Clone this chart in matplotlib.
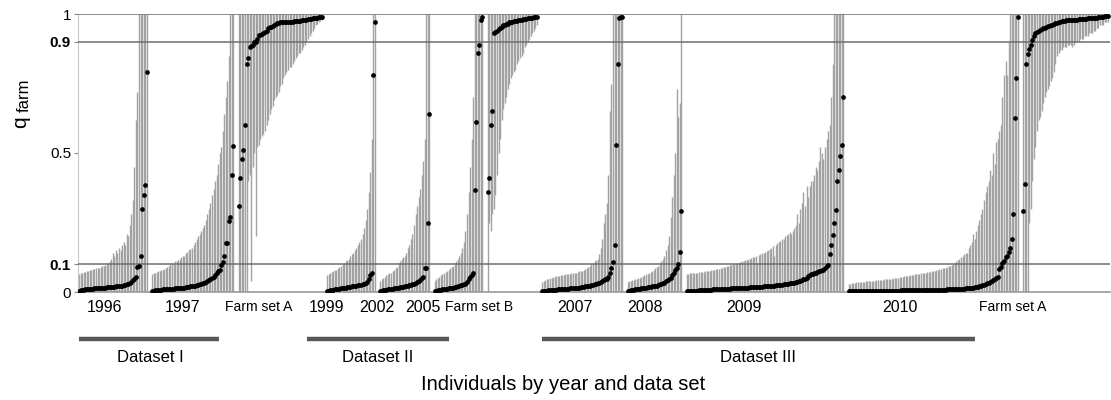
import numpy as np
import matplotlib
matplotlib.use("Agg")
import matplotlib.pyplot as plt
from matplotlib.lines import Line2D

plt.rcParams['font.family'] = ['Liberation Sans', 'DejaVu Sans']

# q_farm per individual (sorted within each group) and the bound of its interval
# year groups: interval runs from 0 up to hi; farm sets: from lo up to 1
q_1996 = [0.005, 0.006, 0.007, 0.008, 0.009, 0.010, 0.010, 0.011, 0.012, 0.012,
          0.013, 0.013, 0.014, 0.014, 0.015, 0.015, 0.016, 0.016, 0.017, 0.017,
          0.018, 0.018, 0.019, 0.019, 0.020, 0.020, 0.021, 0.022, 0.023, 0.024,
          0.025, 0.027, 0.029, 0.032, 0.036, 0.042, 0.048, 0.054, 0.09, 0.094,
          0.13, 0.30, 0.35, 0.385, 0.79]
hi_1996 = [0.065, 0.068, 0.07, 0.072, 0.073, 0.075, 0.077, 0.078, 0.08, 0.082,
           0.083, 0.085, 0.087, 0.088, 0.09, 0.092, 0.095, 0.097, 0.10, 0.105,
           0.11, 0.12, 0.14, 0.13, 0.15, 0.14, 0.16, 0.15, 0.17, 0.18,
           0.17, 0.21, 0.20, 0.24, 0.28, 0.33, 0.45, 0.62, 0.72, 1,
           1, 1, 1, 1, 1]

q_1997 = [0.004, 0.005, 0.006, 0.006, 0.007, 0.008, 0.008, 0.009, 0.009, 0.010,
          0.010, 0.011, 0.011, 0.012, 0.012, 0.013, 0.013, 0.014, 0.014, 0.015,
          0.015, 0.016, 0.017, 0.018, 0.019, 0.020, 0.021, 0.022, 0.023, 0.024,
          0.025, 0.027, 0.029, 0.031, 0.033, 0.036, 0.039, 0.042, 0.046, 0.050,
          0.055, 0.060, 0.068, 0.074, 0.080, 0.097, 0.108, 0.13, 0.175, 0.175,
          0.256, 0.27, 0.42, 0.525]
hi_1997 = [0.065, 0.068, 0.07, 0.072, 0.074, 0.076, 0.078, 0.08, 0.083, 0.086,
           0.09, 0.095, 0.10, 0.10, 0.105, 0.11, 0.11, 0.115, 0.12, 0.125,
           0.13, 0.13, 0.14, 0.145, 0.15, 0.155, 0.16, 0.17, 0.18, 0.19,
           0.20, 0.21, 0.22, 0.23, 0.24, 0.26, 0.28, 0.30, 0.32, 0.35,
           0.37, 0.40, 0.42, 0.46, 0.50, 0.52, 0.58, 0.64, 0.70, 0.76,
           0.85, 1, 1, 1]

q_farmA = [0.31, 0.41, 0.48, 0.51, 0.60, 0.82, 0.84, 0.88, 0.885, 0.89,
           0.90, 0.90, 0.91, 0.925, 0.925, 0.927, 0.93, 0.935, 0.94, 0.95,
           0.953, 0.955, 0.958, 0.96, 0.964, 0.966, 0.968, 0.97, 0.97, 0.97,
           0.971, 0.971, 0.972, 0.972, 0.973, 0.973, 0.974, 0.974, 0.975, 0.975,
           0.976, 0.977, 0.978, 0.979, 0.98, 0.981, 0.982, 0.983, 0.984, 0.985,
           0.986, 0.987, 0.988, 0.989, 0.99]
lo_farmA = [0, 0, 0, 0, 0, 0, 0.40, 0.42, 0.04, 0.45,
            0.50, 0.20, 0.52, 0.53, 0.55, 0.56, 0.57, 0.58, 0.60, 0.62,
            0.64, 0.66, 0.67, 0.69, 0.70, 0.71, 0.72, 0.74, 0.75, 0.77,
            0.78, 0.79, 0.80, 0.81, 0.81, 0.82, 0.83, 0.84, 0.85, 0.86,
            0.86, 0.87, 0.88, 0.89, 0.90, 0.91, 0.92, 0.93, 0.94, 0.95,
            0.96, 0.965, 0.97, 0.975, 0.98]

q_1999 = [0.004, 0.005, 0.006, 0.007, 0.008, 0.009, 0.010, 0.011, 0.012, 0.013,
          0.014, 0.015, 0.016, 0.017, 0.018, 0.019, 0.020, 0.021, 0.022, 0.023,
          0.024, 0.025, 0.026, 0.028, 0.030, 0.033, 0.036, 0.045, 0.06, 0.07,
          0.78, 0.97]
hi_1999 = [0.06, 0.065, 0.07, 0.072, 0.075, 0.078, 0.08, 0.085, 0.09, 0.095,
           0.10, 0.105, 0.11, 0.115, 0.12, 0.13, 0.135, 0.14, 0.15, 0.16,
           0.17, 0.18, 0.19, 0.21, 0.23, 0.26, 0.30, 0.36, 0.43, 0.55,
           1, 1]

q_2002 = [0.004, 0.005, 0.006, 0.007, 0.008, 0.009, 0.010, 0.011, 0.012, 0.013,
          0.014, 0.015, 0.016, 0.017, 0.018, 0.019, 0.020, 0.021, 0.022, 0.024,
          0.026, 0.028, 0.030, 0.032, 0.035, 0.038, 0.042, 0.05, 0.055, 0.086,
          0.086, 0.25, 0.64]
hi_2002 = [0.04, 0.045, 0.05, 0.055, 0.06, 0.065, 0.068, 0.07, 0.075, 0.08,
           0.085, 0.09, 0.10, 0.11, 0.12, 0.125, 0.13, 0.14, 0.16, 0.17,
           0.19, 0.21, 0.24, 0.28, 0.31, 0.34, 0.37, 0.42, 0.47, 0.55,
           1, 1, 1]

q_2005 = [0.004, 0.005, 0.006, 0.007, 0.008, 0.009, 0.010, 0.011, 0.012, 0.013,
          0.014, 0.015, 0.016, 0.017, 0.018, 0.020, 0.022, 0.024, 0.026, 0.028,
          0.030, 0.035, 0.045, 0.054, 0.06, 0.068, 0.367, 0.61, 0.86, 0.89,
          0.98, 0.99]
hi_2005 = [0.04, 0.045, 0.05, 0.055, 0.06, 0.065, 0.07, 0.072, 0.075, 0.08,
           0.085, 0.09, 0.095, 0.10, 0.11, 0.12, 0.13, 0.14, 0.16, 0.18,
           0.22, 0.28, 0.36, 0.45, 0.55, 0.70, 1, 1, 1, 1,
           1, 1]

q_farmB = [0.36, 0.41, 0.60, 0.65, 0.93, 0.935, 0.94, 0.945, 0.95, 0.955,
           0.96, 0.96, 0.965, 0.965, 0.97, 0.97, 0.972, 0.974, 0.975, 0.976,
           0.977, 0.978, 0.98, 0.981, 0.982, 0.983, 0.984, 0.985, 0.986, 0.987,
           0.988, 0.989, 0.99]
lo_farmB = [0.0, 0.25, 0.22, 0.28, 0.30, 0.35, 0.42, 0.50, 0.55, 0.62,
            0.66, 0.68, 0.70, 0.73, 0.75, 0.77, 0.78, 0.79, 0.80, 0.82,
            0.83, 0.84, 0.85, 0.86, 0.88, 0.89, 0.90, 0.91, 0.92, 0.93,
            0.94, 0.95, 0.96]

q_2007 = [0.004, 0.004, 0.005, 0.005, 0.006, 0.006, 0.007, 0.007, 0.008, 0.008,
          0.009, 0.009, 0.010, 0.010, 0.011, 0.011, 0.012, 0.012, 0.013, 0.013,
          0.014, 0.014, 0.015, 0.015, 0.016, 0.017, 0.018, 0.019, 0.020, 0.021,
          0.022, 0.023, 0.024, 0.025, 0.027, 0.029, 0.031, 0.033, 0.035, 0.040,
          0.042, 0.045, 0.047, 0.055, 0.07, 0.086, 0.108, 0.17, 0.53, 0.82,
          0.985, 0.99, 0.99]
hi_2007 = [0.035, 0.04, 0.042, 0.045, 0.048, 0.05, 0.052, 0.054, 0.055, 0.056,
           0.057, 0.058, 0.06, 0.06, 0.062, 0.063, 0.064, 0.065, 0.066, 0.067,
           0.068, 0.07, 0.07, 0.072, 0.074, 0.075, 0.077, 0.08, 0.082, 0.085,
           0.09, 0.095, 0.10, 0.105, 0.11, 0.115, 0.12, 0.135, 0.16, 0.19,
           0.25, 0.28, 0.32, 0.42, 0.65, 0.75, 1, 1, 1, 1,
           1, 1, 1]

q_2008 = [0.004, 0.005, 0.006, 0.007, 0.008, 0.009, 0.010, 0.011, 0.012, 0.013,
          0.014, 0.015, 0.016, 0.017, 0.018, 0.019, 0.020, 0.021, 0.022, 0.023,
          0.025, 0.027, 0.029, 0.031, 0.034, 0.038, 0.042, 0.047, 0.05, 0.06,
          0.07, 0.08, 0.086, 0.10, 0.145, 0.29]
hi_2008 = [0.035, 0.038, 0.04, 0.042, 0.044, 0.046, 0.048, 0.05, 0.052, 0.055,
           0.058, 0.06, 0.063, 0.066, 0.07, 0.072, 0.075, 0.08, 0.085, 0.09,
           0.095, 0.10, 0.11, 0.12, 0.13, 0.15, 0.17, 0.20, 0.27, 0.34,
           0.42, 0.50, 0.73, 0.63, 0.68, 1]

q_2009 = [0.003, 0.003, 0.004, 0.004, 0.004, 0.005, 0.005, 0.005, 0.006, 0.006,
          0.006, 0.007, 0.007, 0.007, 0.008, 0.008, 0.008, 0.009, 0.009, 0.009,
          0.010, 0.010, 0.010, 0.011, 0.011, 0.011, 0.012, 0.012, 0.012, 0.013,
          0.013, 0.013, 0.014, 0.014, 0.014, 0.015, 0.015, 0.015, 0.016, 0.016,
          0.016, 0.017, 0.017, 0.017, 0.018, 0.018, 0.018, 0.019, 0.019, 0.019,
          0.020, 0.020, 0.021, 0.021, 0.022, 0.022, 0.023, 0.023, 0.024, 0.024,
          0.025, 0.025, 0.026, 0.027, 0.028, 0.029, 0.030, 0.031, 0.032, 0.033,
          0.034, 0.035, 0.036, 0.038, 0.040, 0.042, 0.045, 0.048, 0.052, 0.056,
          0.060, 0.063, 0.066, 0.068, 0.070, 0.072, 0.074, 0.076, 0.078, 0.080,
          0.085, 0.095, 0.097, 0.137, 0.17, 0.205, 0.25, 0.295, 0.40, 0.44,
          0.49, 0.53, 0.70]
hi_2009 = [0.065, 0.066, 0.067, 0.068, 0.068, 0.069, 0.070, 0.070, 0.071, 0.072,
           0.072, 0.073, 0.074, 0.075, 0.076, 0.077, 0.078, 0.079, 0.080, 0.081,
           0.082, 0.083, 0.085, 0.087, 0.089, 0.090, 0.092, 0.094, 0.096, 0.098,
           0.100, 0.10, 0.102, 0.104, 0.106, 0.108, 0.110, 0.112, 0.114, 0.116,
           0.118, 0.12, 0.122, 0.125, 0.127, 0.13, 0.105, 0.132, 0.135, 0.14,
           0.142, 0.145, 0.148, 0.15, 0.155, 0.16, 0.165, 0.13, 0.17, 0.175,
           0.18, 0.185, 0.19, 0.19, 0.20, 0.205, 0.21, 0.215, 0.21, 0.22,
           0.23, 0.24, 0.28, 0.25, 0.30, 0.32, 0.36, 0.31, 0.38, 0.34,
           0.38, 0.40, 0.40, 0.42, 0.45, 0.44, 0.47, 0.52, 0.50, 0.48,
           0.52, 0.55, 0.58, 0.60, 0.70, 0.82, 1, 1, 1, 1,
           1, 1, 1]

q_2010 = [0.002, 0.002, 0.002, 0.003, 0.003, 0.003, 0.003, 0.003, 0.003, 0.003,
          0.003, 0.003, 0.004, 0.004, 0.004, 0.004, 0.004, 0.004, 0.004, 0.004,
          0.004, 0.004, 0.005, 0.005, 0.005, 0.005, 0.005, 0.005, 0.005, 0.005,
          0.005, 0.005, 0.005, 0.005, 0.006, 0.006, 0.006, 0.006, 0.006, 0.006,
          0.006, 0.006, 0.006, 0.006, 0.006, 0.006, 0.006, 0.007, 0.007, 0.007,
          0.007, 0.007, 0.007, 0.007, 0.007, 0.007, 0.007, 0.008, 0.008, 0.008,
          0.008, 0.008, 0.008, 0.008, 0.009, 0.009, 0.009, 0.009, 0.009, 0.010,
          0.010, 0.010, 0.011, 0.011, 0.012, 0.012, 0.013, 0.013, 0.014, 0.015,
          0.015, 0.016, 0.017, 0.018, 0.019, 0.020, 0.022, 0.024, 0.026, 0.029,
          0.032, 0.034, 0.037, 0.040, 0.043, 0.046, 0.050, 0.055, 0.083, 0.09,
          0.104, 0.11, 0.126, 0.13, 0.144, 0.16, 0.19, 0.28, 0.625, 0.77,
          0.99]
hi_2010 = [0.03, 0.03, 0.032, 0.033, 0.034, 0.035, 0.035, 0.036, 0.036, 0.037,
           0.037, 0.038, 0.038, 0.039, 0.040, 0.040, 0.041, 0.041, 0.042, 0.042,
           0.043, 0.044, 0.044, 0.045, 0.045, 0.046, 0.047, 0.047, 0.048, 0.049,
           0.050, 0.051, 0.052, 0.053, 0.054, 0.055, 0.056, 0.057, 0.058, 0.059,
           0.060, 0.061, 0.062, 0.063, 0.064, 0.065, 0.066, 0.067, 0.068, 0.069,
           0.070, 0.071, 0.072, 0.073, 0.074, 0.075, 0.077, 0.079, 0.080, 0.082,
           0.084, 0.085, 0.086, 0.088, 0.090, 0.092, 0.094, 0.096, 0.10, 0.105,
           0.11, 0.115, 0.12, 0.125, 0.13, 0.135, 0.14, 0.14, 0.16, 0.17,
           0.18, 0.21, 0.19, 0.22, 0.24, 0.26, 0.28, 0.30, 0.33, 0.36,
           0.38, 0.40, 0.44, 0.42, 0.50, 0.46, 0.54, 0.55, 0.58, 0.60,
           0.70, 0.78, 0.83, 0.78, 0.90, 1, 1, 1, 1, 1,
           1]

q_farmA2 = [0.29, 0.39, 0.82, 0.855, 0.875, 0.89, 0.905, 0.92, 0.93, 0.935,
            0.94, 0.942, 0.945, 0.948, 0.95, 0.953, 0.956, 0.958, 0.96, 0.962,
            0.964, 0.966, 0.968, 0.97, 0.972, 0.974, 0.975, 0.976, 0.977, 0.977,
            0.978, 0.978, 0.979, 0.979, 0.98, 0.98, 0.981, 0.981, 0.982, 0.982,
            0.983, 0.983, 0.984, 0.984, 0.985, 0.985, 0.986, 0.986, 0.987, 0.988,
            0.989, 0.990, 0.991, 0.992, 0.993, 0.994]
lo_farmA2 = [0, 0, 0, 0, 0.25, 0.30, 0.40, 0.48, 0.52, 0.58,
             0.62, 0.63, 0.65, 0.68, 0.70, 0.72, 0.73, 0.74, 0.76, 0.77,
             0.79, 0.82, 0.85, 0.86, 0.87, 0.87, 0.88, 0.88, 0.88, 0.89,
             0.89, 0.89, 0.88, 0.89, 0.90, 0.90, 0.90, 0.91, 0.91, 0.91,
             0.92, 0.92, 0.92, 0.93, 0.93, 0.93, 0.94, 0.94, 0.95, 0.95,
             0.96, 0.96, 0.96, 0.97, 0.97, 0.97]

# (q, lower, upper) per group, left to right
series = [
    (q_1996, 0, hi_1996),
    (q_1997, 0, hi_1997),
    (q_farmA, lo_farmA, 1),
    (q_1999, 0, hi_1999),
    (q_2002, 0, hi_2002),
    (q_2005, 0, hi_2005),
    (q_farmB, lo_farmB, 1),
    (q_2007, 0, hi_2007),
    (q_2008, 0, hi_2008),
    (q_2009, 0, hi_2009),
    (q_2010, 0, hi_2010),
    (q_farmA2, lo_farmA2, 1),
]

group_labels = ['1996', '1997', 'Farm set A', '1999', '2002', '2005', 'Farm set B',
                '2007', '2008', '2009', '2010', 'Farm set A']
dataset_labels = ['Dataset I', 'Dataset II', 'Dataset III']

W, H = 1111, 400
fig = plt.figure(figsize=(W / 100, H / 100), dpi=100)
ax = fig.add_axes([78 / W, 1 - 292 / H, (1110 - 78) / W, (292 - 14) / H])

GAP = 2.5
start = 0
for q, lo, hi in series:
    x = start + np.arange(len(q))
    lo_arr = np.broadcast_to(np.asarray(lo, dtype=float), x.shape)
    hi_arr = np.broadcast_to(np.asarray(hi, dtype=float), x.shape)
    ax.vlines(x, lo_arr, hi_arr, color='#a2a2a2', lw=1.0, zorder=1)
    ax.plot(x, q, 'o', color='black', ms=3.4, mec='none', zorder=4)
    start += len(q) + GAP

ax.set_xlim(-0.7, start - GAP + 0.5)
ax.set_ylim(0, 1)

for yv in (0.1, 0.9, 1.0):
    ax.axhline(yv, color='#6e6e6e', lw=1.1, zorder=3)

for s in ('top', 'right'):
    ax.spines[s].set_visible(False)
ax.spines['bottom'].set_color('#9a9a9a')
ax.spines['bottom'].set_linewidth(1.2)
ax.spines['left'].set_color('#c8c8c8')
ax.spines['left'].set_linewidth(0.8)

ax.set_xticks([])
ax.set_yticks([0, 0.1, 0.5, 0.9, 1])
ax.set_yticklabels(['0', '0.1', '0.5', '0.9', '1'], fontsize=11)
for lab in ax.get_yticklabels():
    if lab.get_text() in ('0.1', '0.9'):
        lab.set_fontweight('bold')
ax.tick_params(axis='y', length=3, color='#888888', pad=2)

# y label: big "q" with a lowered "farm"
fig.text(26 / W, 1 - 128 / H, 'q', rotation=90, rotation_mode='anchor',
         ha='left', va='baseline', fontsize=15)
fig.text(29 / W, 1 - 112 / H, 'farm', rotation=90, rotation_mode='anchor',
         ha='left', va='baseline', fontsize=12)

# group labels under the axis (pixel centres)
label_px = [105, 183, 259, 327, 377, 423, 479, 575, 645, 744, 900, 1013]
for txt, px in zip(group_labels, label_px):
    fs = 10 if txt.startswith('Farm') else 11.5
    fig.text(px / W, 1 - 307 / H, txt, ha='center', va='center', fontsize=fs)

# dataset brackets
ds_spans = [(79, 219), (307, 449), (542, 975)]
ds_centres = [150, 378, 758]
for (x0, x1), cx, txt in zip(ds_spans, ds_centres, dataset_labels):
    fig.add_artist(Line2D([x0 / W, x1 / W], [1 - 339 / H, 1 - 339 / H],
                          color='#585858', lw=3.2, solid_capstyle='butt'))
    fig.text(cx / W, 1 - 358 / H, txt, ha='center', va='center', fontsize=12)

fig.text(563 / W, 1 - 385 / H, 'Individuals by year and data set',
         ha='center', va='center', fontsize=14.5)

fig.savefig('out.png', dpi=100)
